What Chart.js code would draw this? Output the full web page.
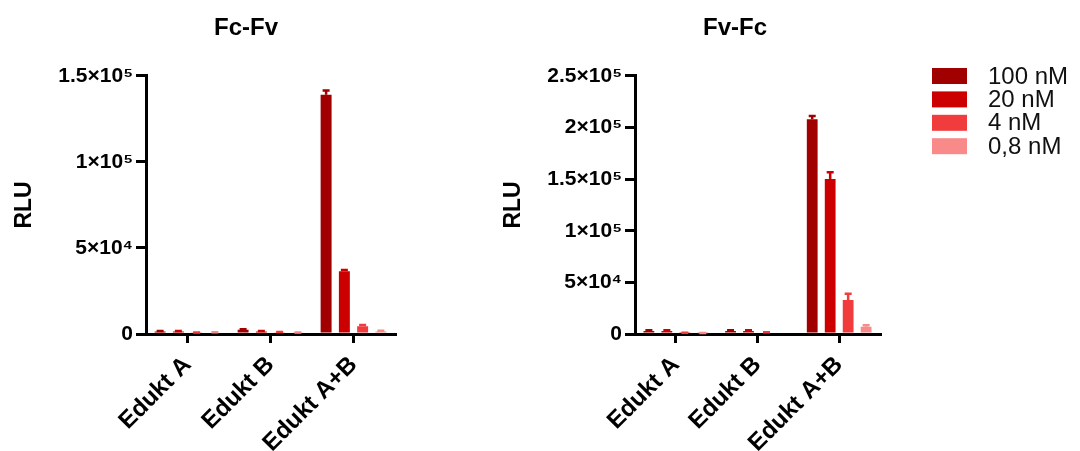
<!DOCTYPE html>
<html>
<head>
<meta charset="utf-8">
<script src="https://cdn.jsdelivr.net/npm/chart.js@4"></script>
<style>
  body { margin: 0; background: #fff; width: 1080px; height: 451px; position: relative; overflow: hidden; }
  .box { position: absolute; top: 0; height: 451px; }
  #left { left: 0; width: 492px; }
  #right { left: 390px; width: 690px; }
</style>
</head>
<body>
<div class="box" id="left"><canvas id="chartLeft"></canvas></div>
<div class="box" id="right"><canvas id="chartRight"></canvas></div>
<script>
const categories = ["Edukt A", "Edukt B", "Edukt A+B"];
const seriesNames = ["100 nM", "20 nM", "4 nM", "0,8 nM"];
const seriesColors = ["#a00000", "#cc0000", "#f03c3c", "#f88a8a"];

// Fc-Fv
const fcfv100 = [1500, 2500, 139000];
const fcfv20 = [1500, 1500, 36500];
const fcfv4 = [700, 1000, 4500];
const fcfv08 = [800, 700, 1500];
const fcfvErr100 = [300, 300, 2500];
const fcfvErr20 = [300, 300, 700];
const fcfvErr4 = [200, 200, 800];
const fcfvErr08 = [200, 200, 400];

// Fv-Fc
const fvfc100 = [3000, 3000, 208000];
const fvfc20 = [3000, 3000, 150000];
const fvfc4 = [1000, 1500, 33000];
const fvfc08 = [700, 0, 7000];
const fvfcErr100 = [700, 700, 3000];
const fvfcErr20 = [700, 700, 6500];
const fvfcErr4 = [300, 300, 6000];
const fvfcErr08 = [200, 0, 1500];

const leftTicks = [0, 50000, 100000, 150000];
const leftTickLabels = ["0", "5×10⁴", "1×10⁵", "1.5×10⁵"];
const rightTicks = [0, 50000, 100000, 150000, 200000, 250000];
const rightTickLabels = ["0", "5×10⁴", "1×10⁵", "1.5×10⁵", "2×10⁵", "2.5×10⁵"];

const FONT = "Arial, 'Liberation Sans', sans-serif";

// draws the upper error bar of each bar, same colour as the bar
const errorBars = {
  id: "errorBars",
  afterDatasetsDraw(chart) {
    const ctx = chart.ctx;
    const y = chart.scales.y;
    chart.data.datasets.forEach((ds, i) => {
      const meta = chart.getDatasetMeta(i);
      meta.data.forEach((bar, j) => {
        const err = ds.errors[j];
        if (!err) return;
        const top = y.getPixelForValue(ds.data[j] + err);
        ctx.save();
        ctx.strokeStyle = ds.backgroundColor;
        ctx.lineWidth = 2.5;
        ctx.beginPath();
        ctx.moveTo(bar.x, bar.y);
        ctx.lineTo(bar.x, top);
        ctx.moveTo(bar.x - 3.5, top);
        ctx.lineTo(bar.x + 3.5, top);
        ctx.stroke();
        ctx.restore();
      });
    });
  }
};

// legend on the right of the second chart
const sideLegend = {
  id: "sideLegend",
  afterDraw(chart, args, opts) {
    if (!opts.show) return;
    const ctx = chart.ctx;
    ctx.save();
    ctx.font = "24px " + FONT;
    ctx.textBaseline = "middle";
    chart.data.datasets.forEach((ds, i) => {
      const cy = 76 + i * 23.4;
      ctx.fillStyle = ds.backgroundColor;
      ctx.fillRect(opts.x, cy - 8, 35, 16);
      ctx.fillStyle = "#111";
      ctx.fillText(ds.label, opts.x + 56, cy + 1);
    });
    ctx.restore();
  }
};

function makeDatasets(values, errors) {
  return seriesNames.map((name, i) => ({
    label: name,
    data: values[i],
    errors: errors[i],
    backgroundColor: seriesColors[i],
    categoryPercentage: 0.88,
    barPercentage: 0.6
  }));
}

function makeChart(id, title, values, errors, ticks, tickLabels, yMax, yWidth, titlePad, rightWidth, legend) {
  return new Chart(document.getElementById(id), {
    type: "bar",
    data: { labels: categories, datasets: makeDatasets(values, errors) },
    plugins: [errorBars, sideLegend],
    options: {
      responsive: true,
      maintainAspectRatio: false,
      animation: false,
      layout: { padding: 0 },
      plugins: {
        legend: { display: false },
        tooltip: { enabled: false },
        title: {
          display: true,
          text: title,
          color: "#000",
          font: { family: FONT, size: 24, weight: "bold" },
          padding: { top: 14, bottom: 33 }
        },
        sideLegend: legend
      },
      scales: {
        x: {
          grid: { display: true, offset: false, drawOnChartArea: false, drawTicks: true, tickLength: 9, color: "#000", lineWidth: 3 },
          border: { color: "#000", width: 3 },
          ticks: {
            color: "#000",
            font: { family: FONT, size: 24, weight: "bold" },
            minRotation: 45,
            maxRotation: 45,
            padding: 8
          },
          afterFit: s => { s.height = 117; }
        },
        y: {
          min: 0,
          max: yMax,
          grid: { display: true, drawOnChartArea: false, drawTicks: true, tickLength: 10, color: "#000", lineWidth: 3 },
          border: { color: "#000", width: 3 },
          afterBuildTicks: s => { s.ticks = ticks.map(v => ({ value: v })); },
          ticks: {
            color: "#000",
            font: { family: FONT, size: 21, weight: "bold" },
            padding: 3,
            callback: v => tickLabels[ticks.indexOf(v)]
          },
          title: {
            display: true,
            text: "RLU",
            color: "#000",
            font: { family: FONT, size: 23, weight: "bold" },
            padding: { top: titlePad, bottom: 0 }
          },
          afterFit: s => { s.width = yWidth; }
        },
        spacer: {
          position: "right",
          display: true,
          grid: { display: false },
          border: { display: false },
          ticks: { display: false },
          afterFit: s => { s.width = rightWidth; }
        }
      }
    }
  });
}

makeChart("chartLeft", "Fc-Fv",
  [fcfv100, fcfv20, fcfv4, fcfv08],
  [fcfvErr100, fcfvErr20, fcfvErr4, fcfvErr08],
  leftTicks, leftTickLabels, 150000, 146, 11, 97, { show: false });

makeChart("chartRight", "Fv-Fc",
  [fvfc100, fvfc20, fvfc4, fvfc08],
  [fvfcErr100, fvfcErr20, fvfcErr4, fvfcErr08],
  rightTicks, rightTickLabels, 250000, 245, 110, 200, { show: true, x: 542 });
</script>
</body>
</html>
